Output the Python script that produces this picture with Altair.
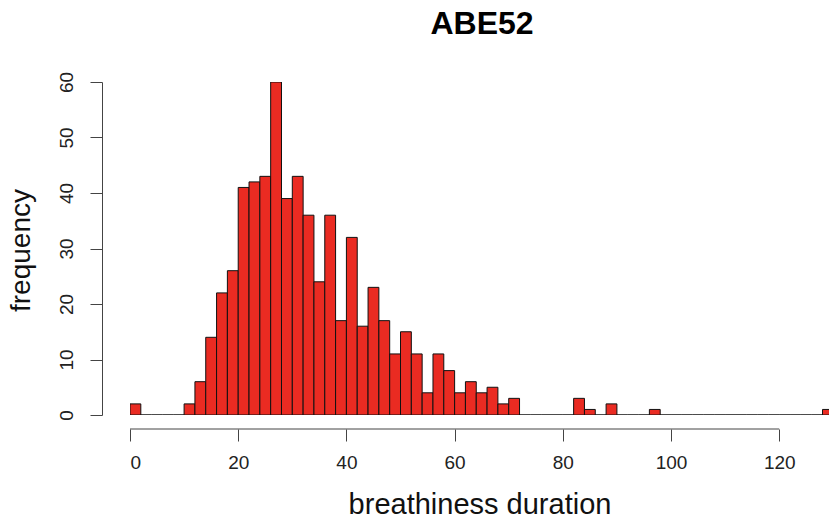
import altair as alt
import pandas as pd

# histogram bins (width 2) and their counts
bin_starts = [0, 2, 4, 6, 8, 10, 12, 14, 16, 18, 20, 22, 24, 26, 28, 30, 32, 34, 36, 38,
              40, 42, 44, 46, 48, 50, 52, 54, 56, 58, 60, 62, 64, 66, 68, 70, 72, 74, 76, 78,
              80, 82, 84, 86, 88, 90, 92, 94, 96, 98, 100, 102, 104, 106, 108, 110, 112, 114,
              116, 118, 120, 122, 124, 126, 128]
counts = [2, 0, 0, 0, 0, 2, 6, 14, 22, 26, 41, 42, 43, 60, 39, 43, 36, 24, 36, 17,
          32, 16, 23, 17, 11, 15, 11, 4, 11, 8, 4, 6, 4, 5, 2, 3, 0, 0, 0, 0,
          0, 3, 1, 0, 2, 0, 0, 0, 1, 0, 0, 0, 0, 0, 0, 0, 0, 0,
          0, 0, 0, 0, 0, 0, 1]
bin_width = 2
x_ticks = [0, 20, 40, 60, 80, 100, 120]
y_ticks = [0, 10, 20, 30, 40, 50, 60]
title_text = ["ABE52"]

df = pd.DataFrame({"start": bin_starts, "count": counts})
df["end"] = df["start"] + bin_width

axis_df = pd.DataFrame({"a": [x_ticks[0]], "b": [x_ticks[-1]]})
title_df = pd.DataFrame({"label": title_text})

FONT = "Liberation Sans"
W, H = 699, 333
x_scale = alt.Scale(domain=[0, 129.2], nice=False, zero=False)
y_scale = alt.Scale(domain=[0, 60], nice=False)

bars = alt.Chart(df).mark_bar(
    color="#EA2B22", stroke="#111111", strokeWidth=1, clip=True
).encode(
    x=alt.X("start:Q", scale=x_scale,
            axis=alt.Axis(values=x_ticks, domain=False, offset=14, tickSize=12,
                          tickColor="#444444", labelFontSize=19, labelFont=FONT,
                          labelColor="#222222", labelPadding=12, grid=False,
                          title="breathiness duration", titleFont=FONT,
                          titleFontSize=29, titleFontWeight="normal",
                          titleColor="#111111", titleBaseline="alphabetic",
                          titleY=84)),
    x2="end:Q",
    y=alt.Y("count:Q", scale=y_scale,
            axis=alt.Axis(values=y_ticks, offset=28, tickSize=12, domainColor="#444444",
                          tickColor="#444444", labelAngle=-90, labelAlign="center",
                          labelBaseline="alphabetic", labelFontSize=19, labelFont=FONT,
                          labelColor="#222222", labelPadding=18, grid=False,
                          title="frequency", titleFont=FONT, titleFontSize=28,
                          titleFontWeight="normal", titleColor="#111111",
                          titleAngle=-90, titleBaseline="alphabetic", titleX=-73,
                          titleY=168)),
    y2=alt.datum(0),
)

xline = alt.Chart(axis_df).mark_rule(color="#444444", strokeWidth=1).encode(
    x=alt.X("a:Q", scale=x_scale),
    x2="b:Q",
    y=alt.value(H + 14),
)

title = alt.Chart(title_df).mark_text(
    font=FONT, fontSize=32, fontWeight="bold", color="#000000",
    align="center", baseline="alphabetic"
).encode(
    x=alt.value(352),
    y=alt.value(-48),
    text="label:N",
)

chart = alt.layer(bars, xline, title).properties(
    width=W, height=H,
    autosize=alt.AutoSizeParams(type="none"),
    padding={"left": 122, "top": 74, "right": 0, "bottom": 99},
).configure_view(strokeWidth=0)

chart.save("out.html", embed_options={"renderer": "svg", "actions": False})
